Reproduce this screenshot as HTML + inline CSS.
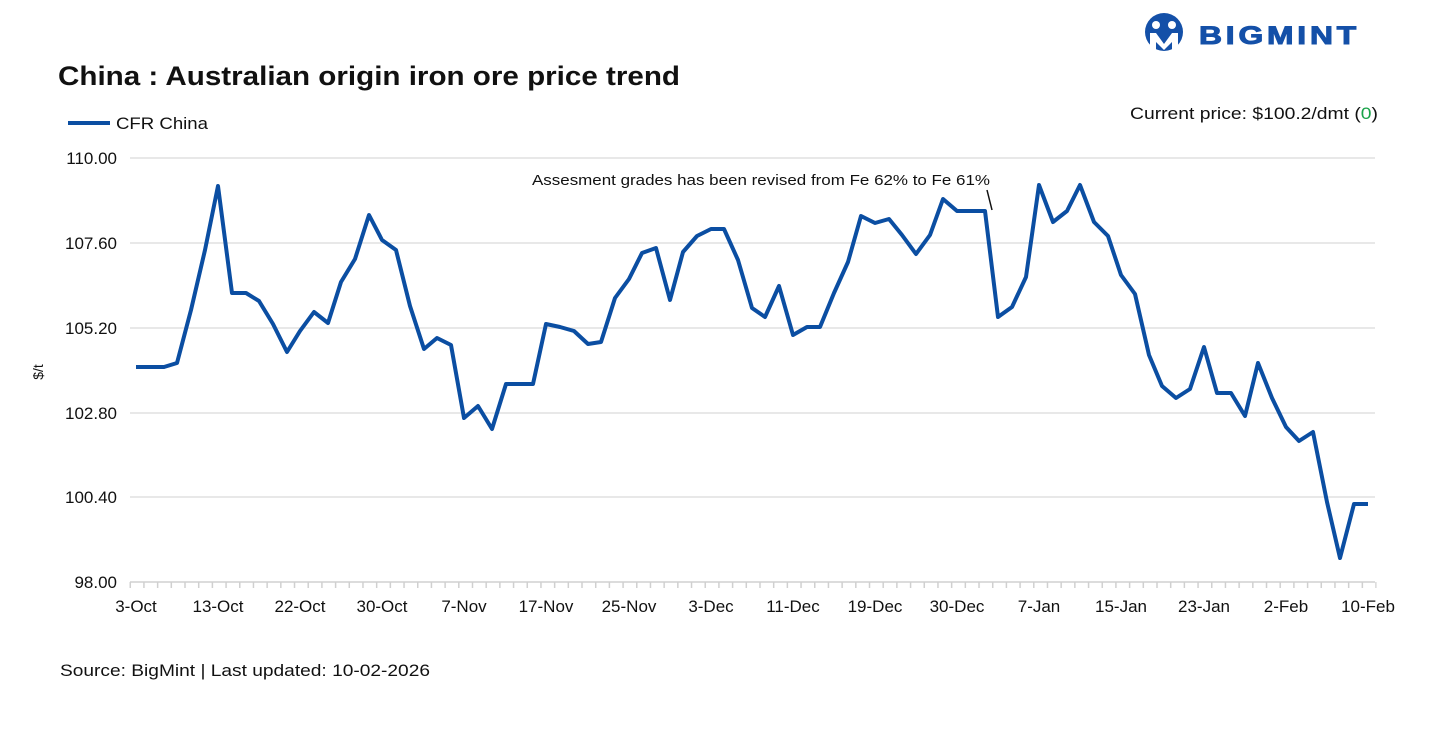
<!DOCTYPE html>
<html><head><meta charset="utf-8"><style>
body{margin:0;background:#fff;}
svg text{font-family:"Liberation Sans",sans-serif;}
</style></head><body>
<svg width="1429" height="732" xmlns="http://www.w3.org/2000/svg">
<defs>
<pattern id="tk" x="129.5" y="0" width="13.69" height="10" patternUnits="userSpaceOnUse">
<rect x="0" y="0" width="1.5" height="10" fill="#d0d0d0"/>
</pattern>
</defs>
<rect width="1429" height="732" fill="#fff"/>
<!-- logo -->
<circle cx="1164" cy="32" r="19" fill="#1450a8"/>
<circle cx="1156" cy="25" r="4" fill="#fff"/>
<circle cx="1172" cy="25" r="4" fill="#fff"/>
<path d="M1150 33 L1156 33 L1164 44 L1172 33 L1178 33 L1178 51 L1172 51 L1172 42 L1164 50 L1156 42 L1156 51 L1150 51 Z" fill="#fff"/>
<text x="1199" y="44" font-size="25" font-weight="bold" fill="#1450a8" textLength="161" lengthAdjust="spacingAndGlyphs" letter-spacing="3" stroke="#1450a8" stroke-width="1">BIGMINT</text>
<text x="58" y="85" font-size="27" font-weight="bold" fill="#111" textLength="622" lengthAdjust="spacingAndGlyphs">China : Australian origin iron ore price trend</text>
<line x1="68" y1="123" x2="110" y2="123" stroke="#0b4ea2" stroke-width="4"/>
<text x="116" y="129" font-size="17" fill="#111" textLength="92" lengthAdjust="spacingAndGlyphs">CFR China</text>
<text x="1130" y="119" font-size="17" fill="#111" textLength="248" lengthAdjust="spacingAndGlyphs">Current price: $100.2/dmt (<tspan fill="#1aa34a">0</tspan>)</text>
<g stroke="#e0e0e0" stroke-width="1.5">
<line x1="130" y1="158" x2="1375" y2="158"/>
<line x1="130" y1="243" x2="1375" y2="243"/>
<line x1="130" y1="328" x2="1375" y2="328"/>
<line x1="130" y1="413" x2="1375" y2="413"/>
<line x1="130" y1="497" x2="1375" y2="497"/>
</g>
<line x1="130" y1="582" x2="1375" y2="582" stroke="#d0d0d0" stroke-width="1.5"/>
<rect x="129.5" y="582" width="1247" height="6" fill="url(#tk)"/>
<g font-size="17" fill="#111" text-anchor="end">
<text x="117" y="164">110.00</text>
<text x="117" y="249">107.60</text>
<text x="117" y="334">105.20</text>
<text x="117" y="419">102.80</text>
<text x="117" y="503">100.40</text>
<text x="117" y="588">98.00</text>
</g>
<text x="43" y="372" font-size="14" fill="#111" text-anchor="middle" transform="rotate(-90 43 372)">$/t</text>
<g font-size="17" fill="#111" text-anchor="middle">
<text x="136" y="612">3-Oct</text><text x="218" y="612">13-Oct</text><text x="300" y="612">22-Oct</text><text x="382" y="612">30-Oct</text><text x="464" y="612">7-Nov</text><text x="546" y="612">17-Nov</text><text x="629" y="612">25-Nov</text><text x="711" y="612">3-Dec</text><text x="793" y="612">11-Dec</text><text x="875" y="612">19-Dec</text><text x="957" y="612">30-Dec</text><text x="1039" y="612">7-Jan</text><text x="1121" y="612">15-Jan</text><text x="1204" y="612">23-Jan</text><text x="1286" y="612">2-Feb</text><text x="1368" y="612">10-Feb</text>
</g>
<text x="532" y="185" font-size="15" fill="#111" textLength="458" lengthAdjust="spacingAndGlyphs">Assesment grades has been revised from Fe 62% to Fe 61%</text>
<line x1="987" y1="190" x2="992" y2="210" stroke="#111" stroke-width="1.5"/>
<polyline fill="none" stroke="#0b4ea2" stroke-width="4" stroke-linejoin="round" points="136,367 150,367 164,367 177,363 191,310 205,250 218,186 232,293 246,293 259,301 273,324 287,352 300,331 314,312 328,323 341,282 355,259 369,215 382,240 396,250 410,306 424,349 437,338 451,345 464,418 478,406 492,429 506,384 519,384 533,384 546,324 560,327 574,331 588,344 601,342 615,298 629,279 642,253 656,248 670,300 683,252 697,236 711,229 724,229 738,260 752,308 765,317 779,286 793,335 807,327 820,327 834,293 848,262 861,216 875,223 889,219 902,235 916,254 930,235 943,199 957,211 971,211 985,211 998,317 1012,307 1026,277 1039,185 1053,222 1067,211 1080,185 1094,222 1108,236 1121,275 1135,294 1149,355 1162,386 1176,398 1190,389 1204,347 1217,393 1231,393 1245,416 1258,363 1272,398 1286,427 1299,441 1313,432 1327,502 1340,558 1354,504 1368,504"/>
<text x="60" y="676" font-size="17" fill="#111" textLength="370" lengthAdjust="spacingAndGlyphs">Source: BigMint | Last updated: 10-02-2026</text>
</svg>
</body></html>
